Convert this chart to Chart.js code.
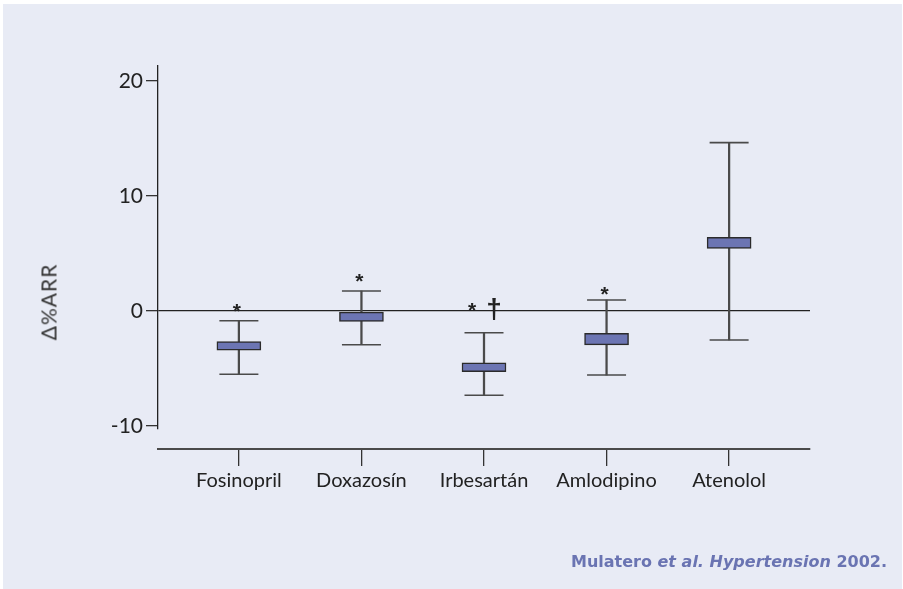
<!DOCTYPE html>
<html>
<head>
<meta charset="utf-8">
<script src="https://cdn.jsdelivr.net/npm/chart.js"></script>
<style>
    html, body { margin: 0; padding: 0; background: #ffffff; }
    #panel {
        position: absolute; left: 3px; top: 4px; width: 899px; height: 585px;
        background: #e8ebf5;
    }
    #chart { position: absolute; left: 0; top: 0; }
    #ytitle {
        position: absolute; left: 45px; top: 298px;
        transform: translate(-50%, -50%) rotate(-90deg);
        font: 21px Lato, "Liberation Sans", sans-serif; color: #333;
        letter-spacing: 1px;
        white-space: nowrap;
    }
    #source {
        position: absolute; right: 15px; top: 548px;
        font: bold 16px "DejaVu Sans", sans-serif; color: #6a74b2;
        white-space: nowrap;
    }
</style>
</head>
<body>
<div id="panel">
    <canvas id="chart" width="899" height="585"></canvas>
    <div id="ytitle">Δ%ARR</div>
    <div id="source">Mulatero <i>et al. Hypertension</i> 2002.</div>
</div>
<script>
const categories = ['Fosinopril', 'Doxazosín', 'Irbesartán', 'Amlodipino', 'Atenolol'];
const whiskerMin = [-5.5, -2.93, -7.33, -5.57, -2.52];
const boxLow = [-3.4, -0.9, -5.28, -2.95, 5.45];
const boxHigh = [-2.65, -0.1, -4.5, -1.95, 6.4];
const whiskerMax = [-0.85, 1.74, -1.89, 0.96, 14.64];
const yTicks = [-10, 0, 10, 20];
// significance marks (value where the mark sits)
const starY = [0.4, 3.0, 0.5, 1.9, null];
const daggerY = [null, null, 0.05, null, null];

const ink = '#222222';
const labelFont = 'Lato, "Liberation Sans", sans-serif';

const boxData = categories.map((c, i) => ({ x: i, y: [boxLow[i], boxHigh[i]] }));
const whiskerData = categories.map((c, i) => ({ x: i, y: [whiskerMin[i], whiskerMax[i]] }));
const capData = [];
categories.forEach((c, i) => {
    capData.push({ x: i, y: whiskerMin[i] });
    capData.push({ x: i, y: whiskerMax[i] });
});

// marks drawn above the whiskers
const marksPlugin = {
    id: 'marks',
    afterDatasetsDraw(chart) {
        const ctx = chart.ctx;
        const xs = chart.scales.x;
        const ys = chart.scales.y;
        ctx.save();
        ctx.fillStyle = ink;
        ctx.textAlign = 'center';
        ctx.textBaseline = 'alphabetic';
        categories.forEach((c, i) => {
            const cx = xs.getPixelForValue(i);
            const hasDagger = daggerY[i] !== null;
            if (starY[i] !== null) {
                ctx.font = 'bold 21px "Liberation Sans"';
                ctx.fillText('*', cx + (hasDagger ? -12 : -2), ys.getPixelForValue(starY[i]) + 12);
            }
            if (hasDagger) {
                ctx.font = 'bold 28px "Liberation Sans"';
                ctx.fillText('†', cx + 10, ys.getPixelForValue(daggerY[i]) + 8);
            }
        });
        ctx.restore();
    }
};

new Chart(document.getElementById('chart'), {
    type: 'bar',
    data: {
        datasets: [{
            data: boxData,
            xAxisID: 'x',
            backgroundColor: '#6c75b3',
            borderColor: '#2b2b2b',
            borderWidth: 1.5,
            borderSkipped: false,
            barThickness: 44,
            grouped: false,
            order: 0
        }, {
            data: whiskerData,
            xAxisID: 'x',
            backgroundColor: '#4a4a4a',
            borderWidth: 0,
            barThickness: 1.6,
            grouped: false,
            order: 1
        }, {
            type: 'scatter',
            data: capData,
            xAxisID: 'x',
            pointStyle: 'line',
            radius: 19.5,
            borderColor: '#4a4a4a',
            borderWidth: 1.6,
            order: 2
        }]
    },
    plugins: [marksPlugin],
    options: {
        responsive: false,
        animation: false,
        devicePixelRatio: 1,
        layout: { padding: { left: 0, top: 62, right: 92, bottom: 80 } },
        plugins: { legend: { display: false }, tooltip: { enabled: false } },
        scales: {
            gap: {
                type: 'linear',
                position: 'bottom',
                weight: 0,
                grid: { display: false },
                border: { display: false },
                ticks: { display: false },
                afterFit: (s) => { s.height = 20; }
            },
            x: {
                type: 'linear',
                position: 'bottom',
                weight: 1,
                min: -0.66,
                max: 4.66,
                offset: false,
                grid: { offset: false, drawOnChartArea: false, tickLength: 17, tickColor: '#333', lineWidth: 1.3 },
                border: { display: true, color: '#4a4a4a', width: 2 },
                afterBuildTicks: (s) => { s.ticks = categories.map((c, i) => ({ value: i })); },
                ticks: {
                    color: ink,
                    padding: 3,
                    font: { family: labelFont, size: 20 },
                    callback: (v) => categories[v]
                },
                afterFit: (s) => { s.height = 60; }
            },
            y: {
                min: -10.26,
                max: 21.3,
                afterBuildTicks: (s) => { s.ticks = yTicks.map(v => ({ value: v })); },
                grid: {
                    color: (ctx) => ctx.tick && ctx.tick.value === 0 ? ink : 'rgba(0,0,0,0)',
                    tickColor: '#333',
                    tickLength: 12,
                    lineWidth: 1.3
                },
                border: { display: true, color: ink, width: 1.3 },
                ticks: {
                    color: ink,
                    padding: 3,
                    font: { family: labelFont, size: 21 }
                },
                afterFit: (s) => { s.width = 155; }
            }
        }
    }
});
</script>
</body>
</html>
